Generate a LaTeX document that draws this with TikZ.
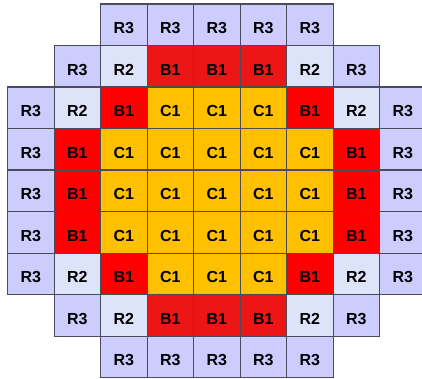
\documentclass[tikz,border=0pt]{standalone}
\usepackage{fontspec}
\setmainfont{Liberation Sans}
\definecolor{colR3}{RGB}{204,204,255}
\definecolor{colR2}{RGB}{221,227,248}
\definecolor{colB1}{RGB}{255,0,0}
\definecolor{colBd}{RGB}{237,22,22}
\definecolor{colC1}{RGB}{255,192,0}
\definecolor{edgec}{RGB}{75,75,92}
\begin{document}
\begin{tikzpicture}[x=1pt,y=-1pt,
  cell/.style={draw=edgec, line width=1.3pt, minimum width=46.5pt, minimum height=41.5pt,
    inner sep=0pt, anchor=north west, text height=17.5pt, text depth=0pt,
    font=\fontsize{16}{18}\selectfont\bfseries},
  ccR3/.style={cell, fill=colR3, node contents=R3},
  ccR2/.style={cell, fill=colR2, node contents=R2},
  ccB1/.style={cell, fill=colB1, node contents=B1},
  ccBd/.style={cell, fill=colBd, node contents=B1},
  ccC1/.style={cell, fill=colC1, node contents=C1}]
\useasboundingbox (0,0) rectangle (422,379);
\clip (0,0) rectangle (422,379);
\foreach \r/\s/\lst in {
  0/2/{R3,R3,R3,R3,R3},
  1/1/{R3,R2,Bd,Bd,Bd,R2,R3},
  2/0/{R3,R2,B1,C1,C1,C1,B1,R2,R3},
  3/0/{R3,B1,C1,C1,C1,C1,C1,B1,R3},
  4/0/{R3,B1,C1,C1,C1,C1,C1,B1,R3},
  5/0/{R3,B1,C1,C1,C1,C1,C1,B1,R3},
  6/0/{R3,R2,B1,C1,C1,C1,B1,R2,R3},
  7/1/{R3,R2,Bd,Bd,Bd,R2,R3},
  8/2/{R3,R3,R3,R3,R3}}{
  \foreach \k [count=\i from 0] in \lst {
    \pgfmathtruncatemacro{\c}{\s+\i}
    \node (n\r-\c) at ({7+46.5*\c},{3.5+41.5*\r}) [cc\k];
  }
}
\end{tikzpicture}
\end{document}
